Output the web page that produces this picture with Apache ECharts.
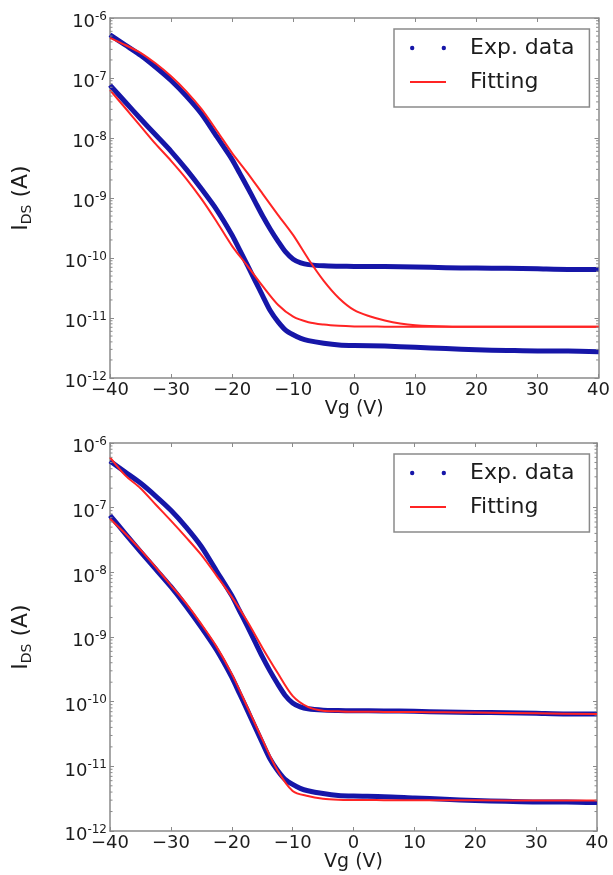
<!DOCTYPE html>
<html><head><meta charset="utf-8">
<script src="https://cdn.jsdelivr.net/npm/echarts@6/dist/echarts.min.js"></script>
<style>html,body{margin:0;padding:0;background:#fff}#c{width:613px;height:875px}</style>
</head><body><div id="c"></div>
<script>
// ---------- data ----------
const xTicks = [-40, -30, -20, -10, 0, 10, 20, 30, 40];
const yDecades = [1e-12, 1e-11, 1e-10, 1e-9, 1e-8, 1e-7, 1e-6];
const minorMultipliers = [2, 3, 4, 5, 6, 7, 8, 9];

// measured transfer curves (same measurement shown in both panels)
const expV = [-40,-37.5,-35,-32.5,-30,-27.5,-25,-22.5,-20,-18.75,-17.5,-16.25,-15,-13.75,-12.5,-11.25,-10,-8.75,-7.5,-5,-2.5,0,5,10,15,20,25,30,35,40];
const expUpperI = [5.25e-7,3.55e-7,2.40e-7,1.51e-7,9.1e-8,5.0e-8,2.51e-8,1.05e-8,4.37e-9,2.57e-9,1.51e-9,8.7e-10,5.0e-10,3.02e-10,1.91e-10,1.26e-10,9.55e-11,8.3e-11,7.76e-11,7.4e-11,7.3e-11,7.24e-11,7.2e-11,7.1e-11,6.9e-11,6.8e-11,6.75e-11,6.6e-11,6.45e-11,6.45e-11];
const expLowerI = [7.6e-8,3.98e-8,2.09e-8,1.12e-8,6.0e-9,3.0e-9,1.41e-9,6.3e-10,2.4e-10,1.35e-10,7.6e-11,4.2e-11,2.34e-11,1.32e-11,8.7e-12,6.3e-12,5.25e-12,4.57e-12,4.2e-12,3.8e-12,3.55e-12,3.47e-12,3.4e-12,3.24e-12,3.1e-12,2.95e-12,2.88e-12,2.82e-12,2.82e-12,2.75e-12];

// fitted curves
const fitV = [-40,-37.5,-35,-32.5,-30,-27.5,-25,-22.5,-20,-17.5,-15,-12.5,-10,-7.5,-5,-2.5,0,2.5,5,7.5,10,15,20,30,40];
const topFitUpperI = [4.68e-7,3.55e-7,2.63e-7,1.74e-7,1.07e-7,6.0e-8,3.02e-8,1.32e-8,5.6e-9,2.63e-9,1.17e-9,5.25e-10,2.4e-10,9.55e-11,4.17e-11,2.14e-11,1.35e-11,1.07e-11,9.1e-12,8.1e-12,7.6e-12,7.24e-12,7.16e-12,7.16e-12,7.16e-12];
const topFitLowerI = [6.3e-8,3.16e-8,1.58e-8,7.9e-9,4.17e-9,2.09e-9,9.55e-10,3.98e-10,1.58e-10,7.4e-11,3.39e-11,1.66e-11,1.05e-11,8.5e-12,7.76e-12,7.4e-12,7.24e-12,7.2e-12,7.18e-12,7.16e-12,7.16e-12,7.16e-12,7.16e-12,7.16e-12,7.16e-12];
const bottomFitUpperI = [6.0e-7,3.16e-7,2.0e-7,1.12e-7,6.3e-8,3.47e-8,1.86e-8,8.9e-9,4.17e-9,1.78e-9,6.9e-10,2.82e-10,1.23e-10,8.3e-11,7.24e-11,7.1e-11,7.0e-11,7.0e-11,6.95e-11,6.92e-11,6.9e-11,6.85e-11,6.8e-11,6.6e-11,6.45e-11];
const bottomFitLowerI = [6.76e-8,3.98e-8,2.24e-8,1.2e-8,6.3e-9,3.31e-9,1.58e-9,7.1e-10,2.69e-10,8.5e-11,2.63e-11,8.7e-12,4.17e-12,3.47e-12,3.16e-12,3.05e-12,3.02e-12,3.01e-12,3.0e-12,3.0e-12,3.0e-12,2.99e-12,2.98e-12,2.95e-12,2.95e-12];

const legendNames = ['Exp. data', 'Fitting'];
const xLabel = 'Vg (V)';

// ---------- chart ----------
const FONT = 'DejaVu Sans';
const TXT = '#1c1c1c';
const AX = '#8a8a8a';
const BLUE = '#1616a8';
const RED = '#ff2424';

const chart = echarts.init(document.getElementById('c'), null, {renderer: 'canvas'});

const grids = [
  {left: 110, top: 18, width: 491, height: 360},
  {left: 110, top: 443, width: 487, height: 388}
];
const legendPos = [{left: 394, top: 29}, {left: 394, top: 454}];

const pairs = (xs, ys) => xs.map((x, i) => [x, ys[i]]);
const minorVals = [];
yDecades.slice(0, -1).forEach(d => minorMultipliers.forEach(m => minorVals.push([0, m * d])));

const xAxes = [], yAxes = [], series = [], legends = [];
const lineCommon = {show: true, onZero: false, lineStyle: {color: AX, width: 1.5}};
const tickCommon = {show: true, inside: true, length: 4, lineStyle: {color: AX, width: 1}};

grids.forEach((g, gi) => {
  xAxes.push({
    type: 'value', gridIndex: gi, min: xTicks[0], max: xTicks[xTicks.length - 1], interval: 10,
    position: 'bottom', axisLine: lineCommon, axisTick: tickCommon, splitLine: {show: false},
    axisLabel: {
      fontFamily: FONT, fontSize: 18, color: TXT, margin: 3,
      formatter: v => (v < 0 ? '\u2212' + Math.abs(v) : String(v))
    },
    name: xLabel, nameLocation: 'middle', nameGap: 20,
    nameTextStyle: {fontFamily: FONT, fontSize: 19, color: TXT}
  });
  xAxes.push({
    type: 'value', gridIndex: gi, min: xTicks[0], max: xTicks[xTicks.length - 1], interval: 10,
    position: 'top', axisLine: lineCommon, axisTick: tickCommon, splitLine: {show: false},
    axisLabel: {show: false}
  });
  yAxes.push({
    type: 'log', logBase: 10, gridIndex: gi, min: yDecades[0], max: yDecades[yDecades.length - 1], splitNumber: 6,
    position: 'left', axisLine: lineCommon, axisTick: tickCommon, splitLine: {show: false},
    axisLabel: {
      margin: 3, color: TXT, fontFamily: FONT,
      formatter: v => '{b|10}{s|' + Math.round(Math.log10(v)) + '}',
      rich: {
        b: {fontFamily: FONT, fontSize: 18, color: TXT, padding: [9, 0, 0, 0]},
        s: {fontFamily: FONT, fontSize: 12, color: TXT, padding: [0, 0, 3, 0]}
      }
    },
    name: '{i|I}{d|DS}{i| (A)}', nameLocation: 'middle', nameGap: 76, nameRotate: 90,
    nameTextStyle: {
      fontFamily: FONT, fontSize: 22, color: TXT,
      rich: {
        i: {fontFamily: FONT, fontSize: 22, color: TXT},
        d: {fontFamily: FONT, fontSize: 14, color: TXT, padding: [11, 0, 0, 0]}
      }
    }
  });
  yAxes.push({
    type: 'log', logBase: 10, gridIndex: gi, min: yDecades[0], max: yDecades[yDecades.length - 1], splitNumber: 6,
    position: 'right', axisLine: lineCommon, axisTick: tickCommon, splitLine: {show: false},
    axisLabel: {show: false}
  });
  const xi = gi * 2, yi = gi * 2;
  const expStyle = {
    type: 'line', xAxisIndex: xi, yAxisIndex: yi, name: legendNames[0], symbol: 'none',
    smooth: 0.25, color: BLUE, lineStyle: {color: BLUE, width: 5, join: 'round'}, z: 2, silent: true
  };
  const fitStyle = {
    type: 'line', xAxisIndex: xi, yAxisIndex: yi, name: legendNames[1], symbol: 'none',
    smooth: 0.3, color: RED, lineStyle: {color: RED, width: 2, join: 'round'}, z: 3, silent: true
  };
  series.push(Object.assign({}, expStyle, {data: pairs(expV, expUpperI)}));
  series.push(Object.assign({}, expStyle, {data: pairs(expV, expLowerI)}));
  series.push(Object.assign({}, fitStyle, {data: pairs(fitV, gi === 0 ? topFitUpperI : bottomFitUpperI)}));
  series.push(Object.assign({}, fitStyle, {data: pairs(fitV, gi === 0 ? topFitLowerI : bottomFitLowerI)}));
  // minor log ticks on left and right spines
  series.push({
    type: 'custom', xAxisIndex: xi, yAxisIndex: yi, silent: true, z: 4,
    data: minorVals,
    renderItem: (params, api) => {
      const v = api.value(1);
      const pL = api.coord([xTicks[0], v]);
      const pR = api.coord([xTicks[xTicks.length - 1], v]);
      return {type: 'group', children: [
        {type: 'line', shape: {x1: pL[0], y1: pL[1], x2: pL[0] + 2.5, y2: pL[1]}, style: {stroke: AX, lineWidth: 1}},
        {type: 'line', shape: {x1: pR[0], y1: pR[1], x2: pR[0] - 2.5, y2: pR[1]}, style: {stroke: AX, lineWidth: 1}}
      ]};
    }
  });
  legends.push({
    left: legendPos[gi].left, top: legendPos[gi].top, orient: 'vertical',
    backgroundColor: '#fff', borderColor: AX, borderWidth: 1.5, borderRadius: 0,
    padding: [7, 15, 13, 16], itemGap: 10, itemWidth: 36, itemHeight: 14,
    selectedMode: false,
    textStyle: {fontFamily: FONT, fontSize: 22, color: TXT, lineHeight: 24, padding: [0, 0, 0, 19]},
    data: [
      {name: legendNames[0], icon: 'path://M0,2.2a2.2,2.2 0 1,0 4.4,0a2.2,2.2 0 1,0 -4.4,0zM31.8,2.2a2.2,2.2 0 1,0 4.4,0a2.2,2.2 0 1,0 -4.4,0z'},
      {name: legendNames[1], icon: 'path://M0,0H36V2.2H0z'}
    ]
  });
});

chart.setOption({
  animation: false,
  backgroundColor: '#fff',
  grid: grids,
  xAxis: xAxes,
  yAxis: yAxes,
  legend: legends,
  series: series
});
</script>
</body></html>
